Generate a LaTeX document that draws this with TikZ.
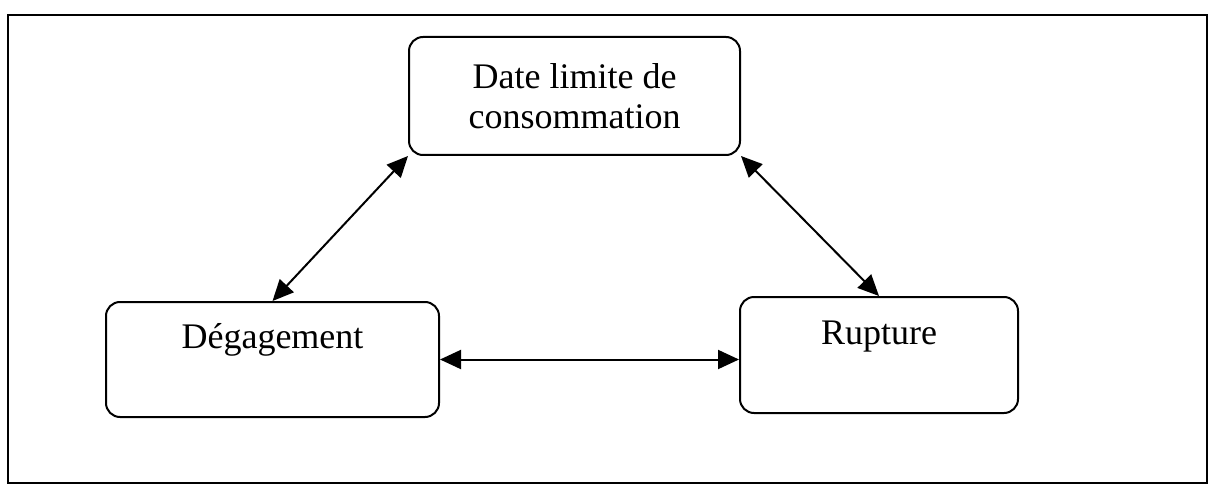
\documentclass[tikz,border=0pt]{standalone}
\usepackage{fontspec}
\setmainfont{Liberation Serif}
\usetikzlibrary{arrows.meta}
\begin{document}
\begin{tikzpicture}[x=0.5pt,y=-0.5pt,
  bloc/.style={draw, line width=1pt, rounded corners=7pt, inner xsep=0pt, font=\fontsize{18}{20}\selectfont},
  lien/.style={{Triangle[length=10.5pt,width=9.5pt]}-{Triangle[length=10.5pt,width=9.5pt]}, line width=1pt}]
\useasboundingbox (0,0) rectangle (1213,486);
\draw[line width=1pt] (8,15) rectangle (1207,483);
\node[bloc, align=center, minimum width=165.5pt, minimum height=59pt] (dlc) at (574.5,96) {Date limite de\\consommation};
\node[bloc, anchor=north, minimum width=166.5pt, inner ysep=0pt, text height=23pt, text depth=34.5pt] (degag) at (272.5,301) {Dégagement};
\node[bloc, anchor=north, minimum width=139pt, inner ysep=0pt, text height=23.5pt, text depth=34.5pt] (rupt) at (879,296) {Rupture};
\draw[lien] (dlc.south west) -- (degag.north);
\draw[lien] (dlc.south east) -- (rupt.north);
\draw[lien] (degag.east) -- (degag.east -| rupt.west);
\end{tikzpicture}
\end{document}
